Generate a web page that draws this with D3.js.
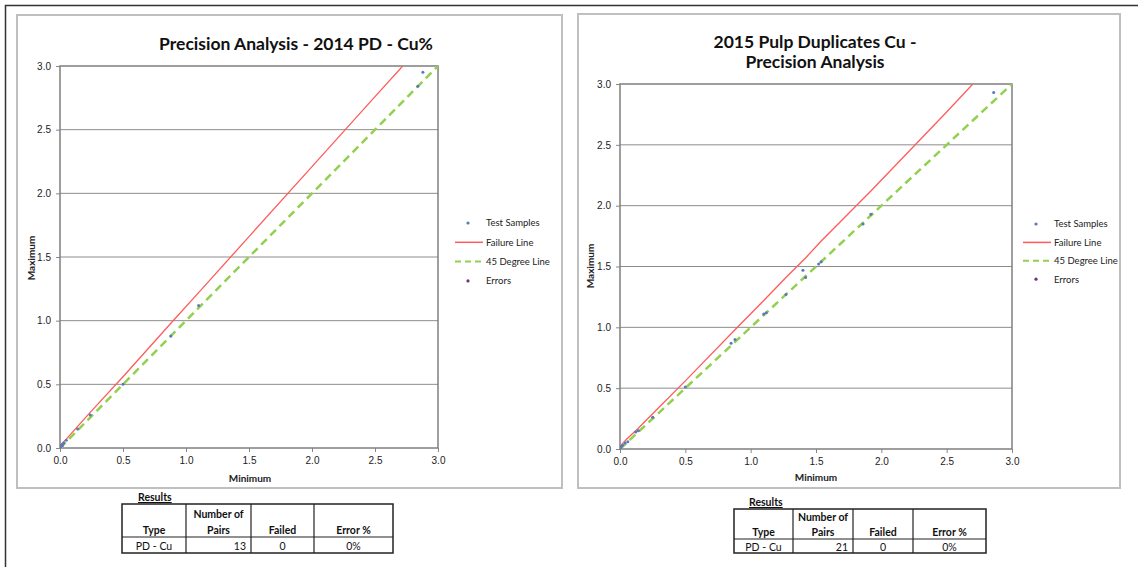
<!DOCTYPE html>
<html>
<head>
<meta charset="utf-8">
<script src="https://cdn.jsdelivr.net/npm/d3@7"></script>
<style>
  body { margin: 0; background: #fff; }
  svg { display: block; font-family: Lato, "Liberation Sans", sans-serif; }
</style>
</head>
<body>
<svg id="chart" width="1138" height="567"></svg>
<script>
// ===== Data =====
const ticks = [0, 0.5, 1.0, 1.5, 2.0, 2.5, 3.0];
const legendLabels = ["Test Samples", "Failure Line", "45 Degree Line", "Errors"];
const line45 = [0, 3];

// 2014 PD
const min2014 = [0.005, 0.01, 0.02, 0.02, 0.03, 0.05, 0.14, 0.24, 0.5, 0.88, 1.1, 2.84, 2.88];
const max2014 = [0.01, 0.02, 0.03, 0.02, 0.04, 0.06, 0.15, 0.26, 0.5, 0.88, 1.12, 2.84, 2.95];
const failMin2014 = [0, 0.02, 0.05, 0.14, 0.24, 0.5, 0.88, 1.1, 1.5, 2.0, 2.5, 2.72];
const failMax2014 = [0.02, 0.04, 0.07, 0.17, 0.28, 0.56, 0.98, 1.22, 1.66, 2.21, 2.76, 3.0];

// 2015 Pulp duplicates
const min2015 = [0.005, 0.01, 0.02, 0.04, 0.06, 0.12, 0.14, 0.25, 0.5, 0.85, 0.88, 1.1, 1.12, 1.27, 1.40, 1.42, 1.52, 1.54, 1.86, 1.92, 2.86];
const max2015 = [0.005, 0.02, 0.03, 0.05, 0.06, 0.14, 0.15, 0.26, 0.51, 0.87, 0.9, 1.11, 1.12, 1.27, 1.47, 1.41, 1.52, 1.54, 1.85, 1.93, 2.93];
const failMin2015 = [0, 0.05, 0.14, 0.25, 0.5, 0.88, 1.1, 1.27, 1.42, 1.54, 1.92, 2.5, 2.70];
const failMax2015 = [0.02, 0.08, 0.17, 0.29, 0.56, 0.98, 1.22, 1.41, 1.57, 1.71, 2.12, 2.77, 3.0];

// Results tables
const tableHead = [["", "Type"], ["Number of", "Pairs"], ["", "Failed"], ["", "Error %"]];
const row2014 = ["PD - Cu", "13", "0", "0%"];
const row2015 = ["PD - Cu", "21", "0", "0%"];

// ===== Config =====
const charts = [
  {
    box: [17, 15, 562, 488],
    plot: { left: 60, right: 438, top: 66, bottom: 448 },
    title: ["Precision Analysis - 2014 PD - Cu%"], titleX: 296, titleY: 50,
    ytitle: [33, 258], xtitle: [250, 482],
    legend: { x: 455, y: 223, gap: 19.3 },
    mins: min2014, maxs: max2014, fmin: failMin2014, fmax: failMax2014,
    table: { cols: [122, 186, 251, 314, 393], rows: [504, 537, 553], resX: 138, resY: 501,
             headY: [514, 530], rowY: 546 },
    row: row2014
  },
  {
    box: [578, 14, 1120, 488],
    plot: { left: 620, right: 1012, top: 84, bottom: 449 },
    title: ["2015 Pulp Duplicates Cu -", "Precision Analysis"], titleX: 815, titleY: 48,
    ytitle: [592, 266], xtitle: [816, 481],
    legend: { x: 1023, y: 224, gap: 18.4 },
    mins: min2015, maxs: max2015, fmin: failMin2015, fmax: failMax2015,
    table: { cols: [734, 793, 853, 913, 986], rows: [509, 539, 553], resX: 749, resY: 506,
             headY: [517, 532], rowY: 547 },
    row: row2015
  }
];

const svg = d3.select("#chart");

// outer frame
svg.append("path")
  .attr("d", "M5.5,567 V5.5 H1138")
  .attr("fill", "none").attr("stroke", "#333").attr("stroke-width", 1.5);

function drawChart(c, idx) {
  const [bx0, by0, bx1, by1] = c.box;
  svg.append("rect")
    .attr("x", bx0).attr("y", by0).attr("width", bx1 - bx0).attr("height", by1 - by0)
    .attr("fill", "#fff").attr("stroke", "#bfbfbf").attr("stroke-width", 2);

  const x = d3.scaleLinear().domain([0, 3]).range([c.plot.left, c.plot.right]);
  const y = d3.scaleLinear().domain([0, 3]).range([c.plot.bottom, c.plot.top]);

  // grid
  svg.append("g").selectAll("line")
    .data(ticks.slice(1, -1))
    .enter().append("line")
    .attr("x1", c.plot.left).attr("x2", c.plot.right)
    .attr("y1", d => y(d)).attr("y2", d => y(d))
    .attr("stroke", "#8c8c8c").attr("stroke-width", 1);

  // axes
  const ax = svg.append("g")
    .attr("transform", `translate(0,${c.plot.bottom})`)
    .call(d3.axisBottom(x).tickValues(ticks).tickFormat(d3.format(".1f")).tickSize(4).tickPadding(5));
  const ay = svg.append("g")
    .attr("transform", `translate(${c.plot.left},0)`)
    .call(d3.axisLeft(y).tickValues(ticks).tickFormat(d3.format(".1f")).tickSize(4).tickPadding(5));
  [ax, ay].forEach(a => {
    a.select(".domain").remove();
    a.selectAll("line").attr("stroke", "#888");
    a.selectAll("text").attr("font-size", 10).attr("fill", "#222");
  });

  // plot border
  svg.append("rect")
    .attr("x", c.plot.left).attr("y", c.plot.top)
    .attr("width", c.plot.right - c.plot.left).attr("height", c.plot.bottom - c.plot.top)
    .attr("fill", "none").attr("stroke", "#7f7f7f").attr("stroke-width", 1.5);

  const clipId = "clip" + idx;
  svg.append("clipPath").attr("id", clipId).append("rect")
    .attr("x", c.plot.left).attr("y", c.plot.top)
    .attr("width", c.plot.right - c.plot.left).attr("height", c.plot.bottom - c.plot.top);
  const g = svg.append("g").attr("clip-path", `url(#${clipId})`);

  const line = d3.line().x(d => x(d[0])).y(d => y(d[1]));

  // 45 degree line
  g.append("path")
    .attr("d", line(line45.map(v => [v, v])))
    .attr("fill", "none").attr("stroke", "#92d050").attr("stroke-width", 2.5)
    .attr("stroke-dasharray", "8,5");

  // failure line
  g.append("path")
    .attr("d", line(c.fmin.map((v, i) => [v, c.fmax[i]])))
    .attr("fill", "none").attr("stroke", "#ff5b5b").attr("stroke-width", 1.3);

  // samples
  g.selectAll(".pt")
    .data(c.mins.map((v, i) => [v, c.maxs[i]]))
    .enter().append("circle")
    .attr("cx", d => x(d[0])).attr("cy", d => y(d[1]))
    .attr("r", 1.5).attr("fill", "#5a78bb");

  // titles
  const t = svg.append("text")
    .attr("text-anchor", "middle").attr("font-size", 17.5).attr("font-weight", "bold").attr("fill", "#111");
  c.title.forEach((s, i) => {
    t.append("tspan").attr("x", c.titleX).attr("y", c.titleY + i * 20).text(s);
  });

  svg.append("text")
    .attr("transform", `translate(${c.ytitle[0] + 2},${c.ytitle[1]}) rotate(-90)`)
    .attr("text-anchor", "middle").attr("font-size", 10).attr("font-weight", "bold").attr("fill", "#222")
    .text("Maximum");
  svg.append("text")
    .attr("x", c.xtitle[0]).attr("y", c.xtitle[1])
    .attr("text-anchor", "middle").attr("font-size", 10).attr("font-weight", "bold").attr("fill", "#222")
    .text("Minimum");

  // legend
  const lg = svg.append("g").attr("transform", `translate(${c.legend.x},${c.legend.y})`);
  legendLabels.forEach((lab, i) => {
    const yy = i * c.legend.gap;
    if (i === 0 || i === 3) {
      lg.append("circle").attr("cx", 13).attr("cy", yy).attr("r", 1.6)
        .attr("fill", i === 0 ? "#5a78bb" : "#7a2a8c");
    } else if (i === 1) {
      lg.append("line").attr("x1", 0).attr("x2", 28).attr("y1", yy).attr("y2", yy)
        .attr("stroke", "#ff5b5b").attr("stroke-width", 1.5);
    } else {
      lg.append("line").attr("x1", 0).attr("x2", 28).attr("y1", yy).attr("y2", yy)
        .attr("stroke", "#92d050").attr("stroke-width", 2).attr("stroke-dasharray", "6,4");
    }
    lg.append("text").attr("x", 31).attr("y", yy).attr("dy", "0.35em")
      .attr("font-size", 9.5).attr("fill", "#222").text(lab);
  });

  // results table
  const tb = c.table;
  svg.append("text").attr("x", tb.resX).attr("y", tb.resY)
    .attr("font-size", 10.5).attr("font-weight", "bold").attr("fill", "#111")
    .attr("text-decoration", "underline").text("Results");
  svg.append("rect")
    .attr("x", tb.cols[0]).attr("y", tb.rows[0])
    .attr("width", tb.cols[4] - tb.cols[0]).attr("height", tb.rows[2] - tb.rows[0])
    .attr("fill", "none").attr("stroke", "#222").attr("stroke-width", 1.5);
  svg.append("line").attr("x1", tb.cols[0]).attr("x2", tb.cols[4])
    .attr("y1", tb.rows[1]).attr("y2", tb.rows[1]).attr("stroke", "#222").attr("stroke-width", 1.2);
  tb.cols.slice(1, -1).forEach(cx => {
    svg.append("line").attr("x1", cx).attr("x2", cx).attr("y1", tb.rows[0]).attr("y2", tb.rows[2])
      .attr("stroke", "#222").attr("stroke-width", 1.2);
  });
  tableHead.forEach((h, i) => {
    const mid = (tb.cols[i] + tb.cols[i + 1]) / 2;
    h.forEach((s, j) => {
      if (!s) return;
      svg.append("text").attr("x", mid).attr("y", tb.headY[j]).attr("dy", "0.35em")
        .attr("text-anchor", "middle").attr("font-size", 10.5).attr("font-weight", "bold")
        .attr("fill", "#111").text(s);
    });
  });
  c.row.forEach((s, i) => {
    const right = i === 1;
    const mid = (tb.cols[i] + tb.cols[i + 1]) / 2;
    svg.append("text")
      .attr("x", right ? tb.cols[i + 1] - 5 : mid).attr("y", tb.rowY).attr("dy", "0.35em")
      .attr("text-anchor", right ? "end" : "middle").attr("font-size", 10.5).attr("fill", "#111")
      .text(s);
  });
}

charts.forEach(drawChart);
</script>
</body>
</html>
